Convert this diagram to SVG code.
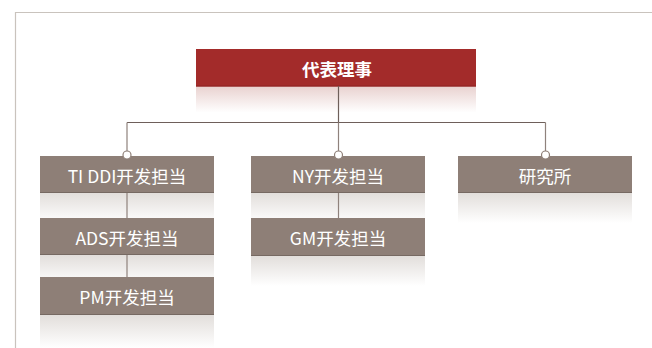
<svg xmlns="http://www.w3.org/2000/svg" width="652" height="348" viewBox="0 0 652 348">
<defs>
<linearGradient id="gs" x1="0" y1="0" x2="0" y2="1">
<stop offset="0" stop-color="#e2dedb"/>
<stop offset="1" stop-color="#ffffff"/>
</linearGradient>
<linearGradient id="gr" x1="0" y1="0" x2="0" y2="1">
<stop offset="0" stop-color="#e9d2d0"/>
<stop offset="1" stop-color="#ffffff"/>
</linearGradient>
</defs>
<style>
.box{fill:#8e7f77}
.edge{stroke:#766962;stroke-width:1}
.lbl{fill:#ffffff;font-family:"Noto Sans CJK JP","Noto Sans CJK SC",sans-serif;font-size:17.5px;text-anchor:middle;dominant-baseline:central}
.conn{stroke:#8f827c;stroke-width:1.2;fill:none}
.main{stroke:#6e5f5a;stroke-width:1.2;fill:none}
.dot{fill:#ffffff;stroke:#8e7f77;stroke-width:1.2}
</style>
<rect width="652" height="348" fill="#ffffff"/>
<path d="M15.5 348V12.5H652" fill="none" stroke="#c9c3bd" stroke-width="1.2"/>

<g id="ceo">
<rect x="196" y="86.5" width="280" height="26" fill="url(#gr)"/>
<rect x="196" y="49" width="280" height="37.5" fill="#a32b2a"/>
<line x1="196" y1="86" x2="476" y2="86" stroke="#8c2221"/>
<text class="lbl" x="337" y="68" font-weight="bold">代表理事</text>
</g>

<g id="n-tiddi">
<rect x="40" y="193" width="174" height="30" fill="url(#gs)"/>
<rect class="box" x="40" y="156" width="174" height="37"/>
<line class="edge" x1="40" y1="192.5" x2="214" y2="192.5"/>
<text class="lbl" x="127" y="175">TI DDI开发担当</text>
</g>
<g id="n-ads">
<rect x="40" y="255" width="174" height="30" fill="url(#gs)"/>
<rect class="box" x="40" y="218" width="174" height="37"/>
<line class="edge" x1="40" y1="254.5" x2="214" y2="254.5"/>
<text class="lbl" x="127" y="237">ADS开发担当</text>
</g>
<g id="n-pm">
<rect x="40" y="315" width="174" height="33" fill="url(#gs)"/>
<rect class="box" x="40" y="277" width="174" height="38"/>
<line class="edge" x1="40" y1="314.5" x2="214" y2="314.5"/>
<text class="lbl" x="127" y="296">PM开发担当</text>
</g>
<g id="n-ny">
<rect x="251" y="193" width="174" height="30" fill="url(#gs)"/>
<rect class="box" x="251" y="156" width="174" height="37"/>
<line class="edge" x1="251" y1="192.5" x2="425" y2="192.5"/>
<text class="lbl" x="338" y="175">NY开发担当</text>
</g>
<g id="n-gm">
<rect x="251" y="256" width="174" height="30" fill="url(#gs)"/>
<rect class="box" x="251" y="218" width="174" height="38"/>
<line class="edge" x1="251" y1="255.5" x2="425" y2="255.5"/>
<text class="lbl" x="338" y="237">GM开发担当</text>
</g>
<g id="n-lab">
<rect x="458" y="193" width="174" height="30" fill="url(#gs)"/>
<rect class="box" x="458" y="156" width="174" height="37"/>
<line class="edge" x1="458" y1="192.5" x2="632" y2="192.5"/>
<text class="lbl" x="545" y="175">研究所</text>
</g>

<g id="connectors">
<path class="main" d="M338.5 86V122.5M127 122.5H545.5"/>
<path class="conn" d="M127 122.5V151M338.5 122.5V151M545.5 122.5V151"/>
<path class="conn" d="M127 193V218M127 255V277M338.5 193V218"/>
<circle class="dot" cx="127" cy="155" r="4"/>
<circle class="dot" cx="338.5" cy="155" r="4"/>
<circle class="dot" cx="545.5" cy="155" r="4"/>
</g>
</svg>
